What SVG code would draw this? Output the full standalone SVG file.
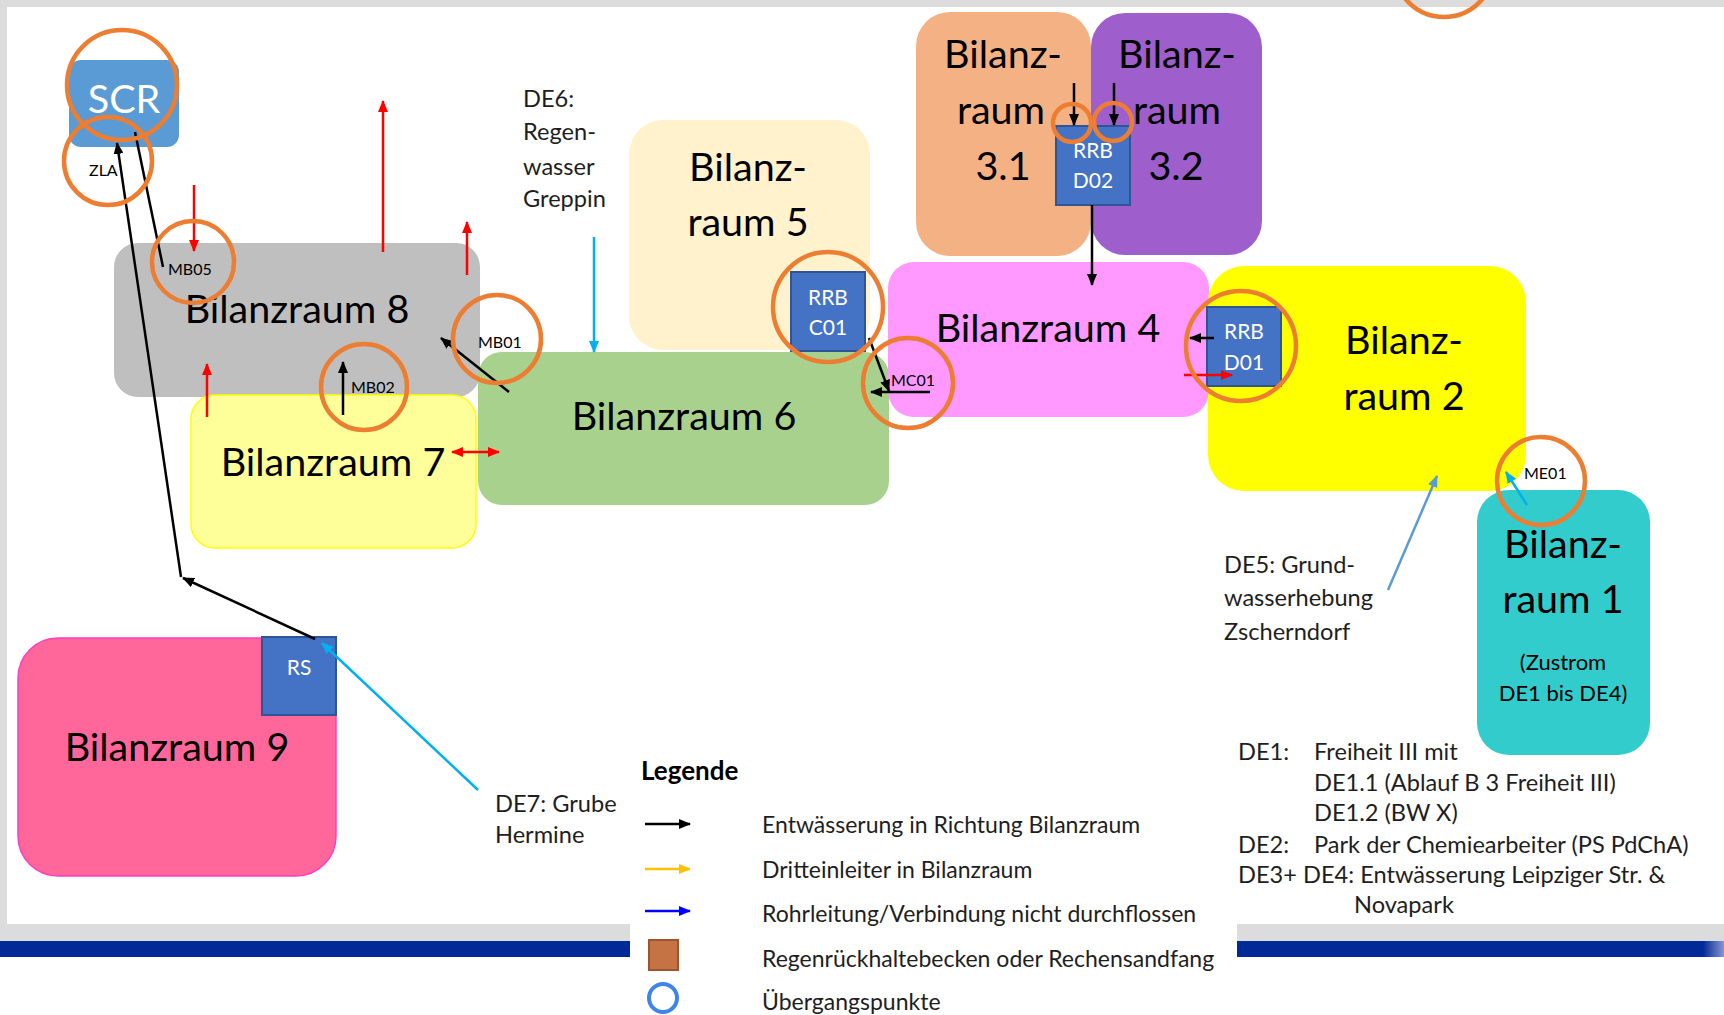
<svg xmlns="http://www.w3.org/2000/svg" width="1724" height="1015" viewBox="0 0 1724 1015">
<style>
.big{font-family:Lato,"Liberation Sans",sans-serif;font-size:39.5px;fill:#000;text-anchor:middle}
.wt{font-family:Lato,"Liberation Sans",sans-serif;font-size:21px;fill:#fff;text-anchor:middle}
.mp{font-family:Lato,"Liberation Sans",sans-serif;font-size:16px;fill:#000}
.de{font-family:Lato,"Liberation Sans",sans-serif;font-size:23.6px;fill:#1e1e1e}
.lg{font-family:Lato,"Liberation Sans",sans-serif;font-size:23px;fill:#1e1e1e}
.oc{fill:none;stroke:#ed7d31;stroke-width:4.5}
.rrb{fill:#4472c4;stroke:#2f5597;stroke-width:2}
.ab{stroke:#000;stroke-width:2.5;fill:none}
.ar{stroke:#ff0000;stroke-width:2.5;fill:none}
.ac{stroke:#00b0f0;stroke-width:2.5;fill:none}
.al{stroke:#5b9bd5;stroke-width:2.5;fill:none}
</style>
<defs>
<marker id="mb" markerUnits="userSpaceOnUse" markerWidth="12" markerHeight="10" refX="11" refY="5" orient="auto-start-reverse"><path d="M0,0 L12,5 L0,10 z" fill="#000"/></marker>
<marker id="mr" markerUnits="userSpaceOnUse" markerWidth="12" markerHeight="10" refX="11" refY="5" orient="auto-start-reverse"><path d="M0,0 L12,5 L0,10 z" fill="#ff0000"/></marker>
<marker id="mc" markerUnits="userSpaceOnUse" markerWidth="12" markerHeight="10" refX="11" refY="5" orient="auto-start-reverse"><path d="M0,0 L12,5 L0,10 z" fill="#00b0f0"/></marker>
<marker id="ml" markerUnits="userSpaceOnUse" markerWidth="12" markerHeight="10" refX="11" refY="5" orient="auto-start-reverse"><path d="M0,0 L12,5 L0,10 z" fill="#5b9bd5"/></marker>
<marker id="mo" markerUnits="userSpaceOnUse" markerWidth="12" markerHeight="10" refX="11" refY="5" orient="auto"><path d="M0,0 L12,5 L0,10 z" fill="#ffc000"/></marker>
<marker id="mbl" markerUnits="userSpaceOnUse" markerWidth="12" markerHeight="10" refX="11" refY="5" orient="auto"><path d="M0,0 L12,5 L0,10 z" fill="#0000ff"/></marker>
<linearGradient id="fade" x1="0" x2="1" y1="0" y2="0"><stop offset="0" stop-color="#002a96"/><stop offset="1" stop-color="#8a96d0"/></linearGradient>
</defs>

<!-- frame -->
<rect x="0" y="0" width="1724" height="1015" fill="#ffffff"/>
<rect x="0" y="0" width="1724" height="7" fill="#dcdcdc"/>
<rect x="0" y="0" width="7" height="941" fill="#dcdcdc"/>
<rect x="0" y="924" width="630" height="17" fill="#dcdcdc"/>
<rect x="0" y="941" width="630" height="16" fill="#002a96"/>
<rect x="1237" y="924" width="487" height="17" fill="#dcdcdc"/>
<rect x="1237" y="941" width="466" height="16" fill="#002a96"/>
<rect x="1703" y="941" width="21" height="16" fill="url(#fade)"/>

<g id="bilanzraum-8"><rect x="114" y="243" width="366" height="154" rx="24" fill="#bfbfbf"/><text class="big" x="297" y="323">Bilanzraum 8</text></g>
<g id="bilanzraum-7"><rect x="191" y="395" width="285" height="153" rx="24" fill="#ffff99" stroke="#ffff00" stroke-width="1.5"/><text class="big" x="333" y="476">Bilanzraum 7</text></g>
<g id="bilanzraum-5"><rect x="629" y="120" width="241" height="230" rx="34" fill="#fff2cc"/><text class="big" x="748" y="181">Bilanz-</text><text class="big" x="748" y="236">raum 5</text></g>
<g id="bilanzraum-6"><rect x="478" y="352" width="411" height="153" rx="24" fill="#a9d18e"/><text class="big" x="684" y="430">Bilanzraum 6</text></g>
<g id="rrb-c01"><rect class="rrb" x="791" y="272" width="74" height="79"/><text class="wt" x="828" y="305">RRB</text><text class="wt" x="828" y="335">C01</text></g>
<g id="bilanzraum-3-1"><rect x="916" y="12" width="175" height="244" rx="34" fill="#f4b183"/><text class="big" x="1003" y="68">Bilanz-</text><text class="big" x="1001" y="124">raum</text><text class="big" x="1003" y="180">3.1</text></g>
<g id="bilanzraum-3-2"><rect x="1091" y="13" width="171" height="242" rx="34" fill="#9e5ecb"/><text class="big" x="1177" y="68">Bilanz-</text><text class="big" x="1177" y="124">raum</text><text class="big" x="1176" y="180">3.2</text></g>
<g id="rrb-d02"><rect class="rrb" x="1056" y="126" width="74" height="79"/><text class="wt" x="1093" y="158">RRB</text><text class="wt" x="1093" y="188">D02</text></g>
<g id="bilanzraum-4"><rect x="888" y="262" width="321" height="155" rx="26" fill="#ff99ff"/><text class="big" x="1048" y="342">Bilanzraum 4</text></g>
<g id="bilanzraum-2"><rect x="1208" y="266" width="318" height="225" rx="36" fill="#ffff00"/><text class="big" x="1404" y="354">Bilanz-</text><text class="big" x="1404" y="410">raum 2</text></g>
<g id="rrb-d01"><rect class="rrb" x="1207" y="307" width="74" height="79"/><text class="wt" x="1244" y="339">RRB</text><text class="wt" x="1244" y="370">D01</text></g>
<g id="bilanzraum-1"><rect x="1477" y="490" width="173" height="265" rx="32" fill="#33cccc"/><text class="big" x="1563" y="558">Bilanz-</text><text class="big" x="1563" y="613">raum 1</text><text class="de" x="1563" y="670" style="text-anchor:middle;fill:#000;font-size:22px">(Zustrom</text><text class="de" x="1563" y="701" style="text-anchor:middle;fill:#000;font-size:22px">DE1 bis DE4)</text></g>
<g id="bilanzraum-9"><rect x="18" y="638" width="318" height="238" rx="40" fill="#ff6699" stroke="#ff3fbf" stroke-width="1.5"/><text class="big" x="177" y="761">Bilanzraum 9</text></g>
<g id="rs"><rect class="rrb" x="262" y="637" width="74" height="78"/><text class="wt" x="299" y="675">RS</text></g>
<g id="scr"><rect x="69" y="60" width="110" height="87" rx="12" fill="#5b9bd5"/><text class="big" x="124" y="113" style="fill:#fff">SCR</text></g>

<g id="connectors">
<line class="ab" x1="163" y1="267" x2="135" y2="132"/>
<line class="ab" x1="181" y1="577" x2="117" y2="143" marker-end="url(#mb)"/>
<line class="ab" x1="315" y1="639" x2="183" y2="578" marker-end="url(#mb)"/>
<line class="ab" x1="343" y1="415" x2="343" y2="362" marker-end="url(#mb)"/>
<line class="ab" x1="509" y1="392" x2="441" y2="338" marker-end="url(#mb)"/>
<line class="ab" x1="869" y1="338" x2="889" y2="391" marker-end="url(#mb)"/>
<line class="ab" x1="930" y1="392" x2="871" y2="392" marker-end="url(#mb)"/>
<line class="ab" x1="1092" y1="205" x2="1092" y2="285" marker-end="url(#mb)"/>
<line class="ab" x1="1074" y1="83" x2="1074" y2="125" marker-end="url(#mb)"/>
<line class="ab" x1="1114" y1="83" x2="1114" y2="125" marker-end="url(#mb)"/>
<line class="ab" x1="1214" y1="338" x2="1190" y2="338" marker-end="url(#mb)"/>
<line class="ar" x1="194" y1="185" x2="194" y2="251" marker-end="url(#mr)"/>
<line class="ar" x1="383" y1="252" x2="383" y2="101" marker-end="url(#mr)"/>
<line class="ar" x1="467" y1="275" x2="467" y2="222" marker-end="url(#mr)"/>
<line class="ar" x1="207" y1="417" x2="207" y2="364" marker-end="url(#mr)"/>
<line class="ar" x1="452" y1="452" x2="499" y2="452" marker-start="url(#mr)" marker-end="url(#mr)"/>
<line class="ar" x1="1184" y1="375" x2="1232" y2="375" marker-end="url(#mr)"/>
<line class="ac" x1="594" y1="237" x2="594" y2="352" marker-end="url(#mc)"/>
<line class="ac" x1="478" y1="790" x2="322" y2="643" marker-end="url(#mc)"/>
<line class="ac" x1="1527" y1="505" x2="1506" y2="472" marker-end="url(#mc)"/>
<line class="al" x1="1388" y1="590" x2="1437" y2="476" marker-end="url(#ml)"/>
</g>

<g id="uebergangspunkte">
<circle class="oc" cx="122" cy="85" r="55"/>
<circle class="oc" cx="108" cy="161" r="44"/>
<circle class="oc" cx="193" cy="262" r="41"/>
<circle class="oc" cx="497" cy="339" r="44"/>
<circle class="oc" cx="364" cy="387" r="43"/>
<circle class="oc" cx="828" cy="307" r="55"/>
<circle class="oc" cx="908" cy="383" r="45"/>
<circle class="oc" cx="1072" cy="123" r="19"/>
<circle class="oc" cx="1113" cy="122" r="19"/>
<circle class="oc" cx="1241" cy="346" r="55"/>
<circle class="oc" cx="1541" cy="481" r="44"/>
<circle class="oc" cx="1444" cy="-33" r="50"/>
<text class="mp" x="89" y="176">ZLA</text>
<text class="mp" x="168" y="275">MB05</text>
<text class="mp" x="478" y="348">MB01</text>
<text class="mp" x="351" y="393">MB02</text>
<text class="mp" x="891" y="386">MC01</text>
<text class="mp" x="1524" y="479">ME01</text>
</g>

<g id="annotations">
<text class="de" x="523" y="107">DE6:</text>
<text class="de" x="523" y="140">Regen-</text>
<text class="de" x="523" y="175">wasser</text>
<text class="de" x="523" y="207">Greppin</text>
<text class="de" x="495" y="812">DE7: Grube</text>
<text class="de" x="495" y="843">Hermine</text>
<text class="de" x="1224" y="573">DE5: Grund-</text>
<text class="de" x="1224" y="606">wasserhebung</text>
<text class="de" x="1224" y="640">Zscherndorf</text>
<text class="de" x="1238" y="760">DE1:</text>
<text class="de" x="1314" y="760">Freiheit III mit</text>
<text class="de" x="1314" y="791">DE1.1 (Ablauf B 3 Freiheit III)</text>
<text class="de" x="1314" y="821">DE1.2 (BW X)</text>
<text class="de" x="1238" y="853">DE2:</text>
<text class="de" x="1314" y="853">Park der Chemiearbeiter (PS PdChA)</text>
<text class="de" x="1238" y="883">DE3+ DE4: Entwässerung Leipziger Str. &amp;</text>
<text class="de" x="1354" y="913">Novapark</text>
</g>

<g id="legende">
<text class="lg" x="641" y="780" style="font-weight:bold;fill:#000;font-size:26px">Legende</text>
<line x1="645" y1="824" x2="690" y2="824" stroke="#000" stroke-width="2.5" marker-end="url(#mb)"/>
<line x1="645" y1="869" x2="690" y2="869" stroke="#ffc000" stroke-width="2.5" marker-end="url(#mo)"/>
<line x1="645" y1="911" x2="690" y2="911" stroke="#0000ff" stroke-width="2.5" marker-end="url(#mbl)"/>
<rect x="649" y="940" width="29" height="30" fill="#c57244" stroke="#9c5530" stroke-width="2"/>
<circle cx="663" cy="998" r="14" fill="none" stroke="#3d85e8" stroke-width="4"/>
<text class="lg" x="762" y="833">Entwässerung in Richtung Bilanzraum</text>
<text class="lg" x="762" y="878">Dritteinleiter in Bilanzraum</text>
<text class="lg" x="762" y="922">Rohrleitung/Verbindung nicht durchflossen</text>
<text class="lg" x="762" y="967">Regenrückhaltebecken oder Rechensandfang</text>
<text class="lg" x="762" y="1010">Übergangspunkte</text>
</g>
</svg>
